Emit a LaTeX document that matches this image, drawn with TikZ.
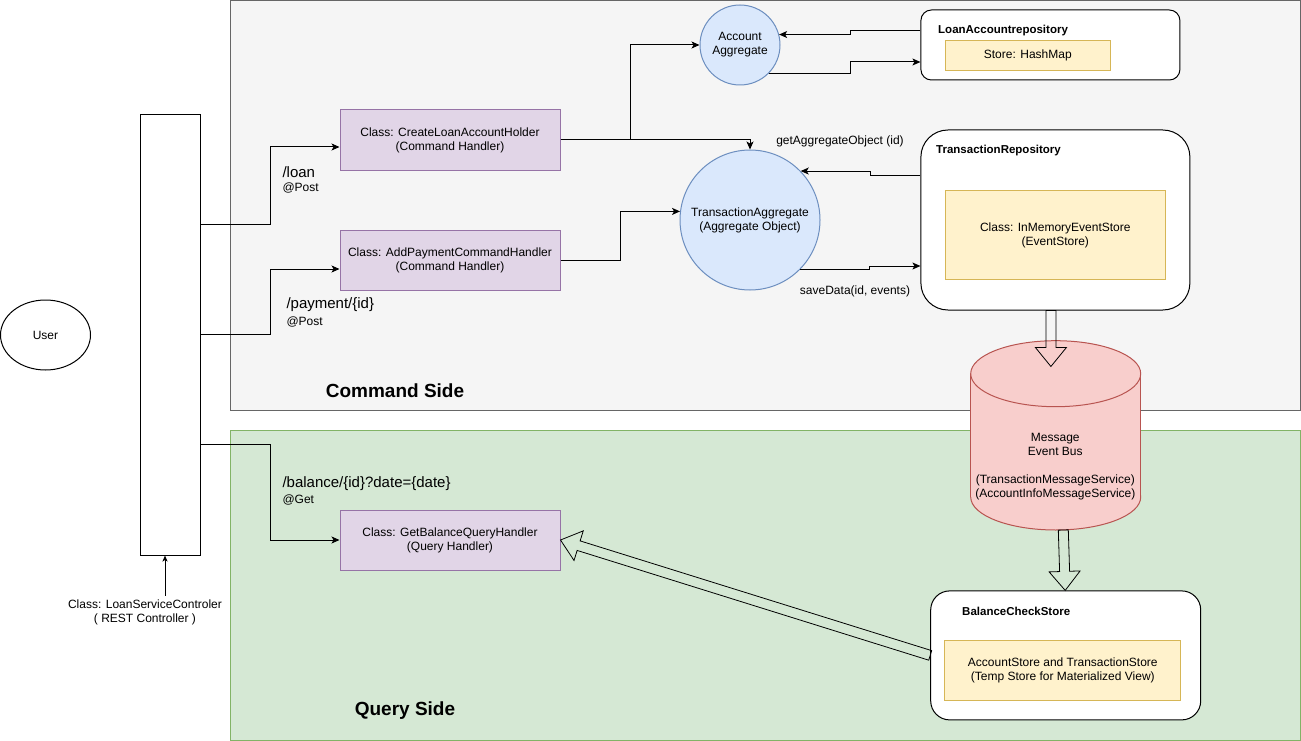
\documentclass[tikz,border=0pt]{standalone}
\usepackage{fontspec}
\setmainfont{Liberation Sans}
\usetikzlibrary{calc, arrows.meta, positioning, shapes.geometric}
\definecolor{cmdfill}{HTML}{F5F5F5}
\definecolor{cmdline}{HTML}{666666}
\definecolor{qryfill}{HTML}{D5E8D4}
\definecolor{qryline}{HTML}{82B366}
\definecolor{hdlfill}{HTML}{E1D5E7}
\definecolor{hdlline}{HTML}{9673A6}
\definecolor{aggfill}{HTML}{DAE8FC}
\definecolor{aggline}{HTML}{6C8EBF}
\definecolor{storefill}{HTML}{FFF2CC}
\definecolor{storeline}{HTML}{D6B656}
\definecolor{busfill}{HTML}{F8CECC}
\definecolor{busline}{HTML}{B85450}
\tikzset{
  >={Stealth[length=8pt,width=7pt,inset=2pt]},
  panel/.style = {line width=1pt},
  cmdpanel/.style = {panel, draw=cmdline, fill=cmdfill},
  qrypanel/.style = {panel, draw=qryline, fill=qryfill},
  sidetitle/.style = {font=\fontsize{19}{22}\selectfont\bfseries},
  handler/.style = {rectangle, draw=hdlline, fill=hdlfill, line width=1pt,
                    minimum width=220pt, minimum height=60pt, align=center},
  aggregate/.style = {circle, draw=aggline, fill=aggfill, line width=1pt,
                      align=center, inner sep=0pt},
  repobox/.style = {rectangle, draw=black, fill=white, line width=1pt},
  repotitle/.style = {anchor=west, inner sep=0pt,
                      font=\fontsize{11.5}{14}\selectfont\bfseries},
  storebox/.style = {rectangle, draw=storeline, fill=storefill, line width=1pt,
                     align=center},
  route/.style = {anchor=base west, inner sep=0pt, font=\fontsize{15}{18}\selectfont},
  httpverb/.style = {anchor=base west, inner sep=0pt},
  hollowedge/.style = {draw=black, line width=0.8pt},
  wire/.style = {->, line width=1pt},
}
\newcommand{\hollowarrow}[2]{%
  \coordinate (ha-s) at (#1);
  \coordinate (ha-e) at (#2);
  \coordinate (ha-h) at ($(ha-e)!19pt!(ha-s)$);
  \draw[hollowedge]
    ($(ha-s)!5pt!90:(ha-e)$) -- ($(ha-h)!5pt!-90:(ha-s)$) --
    ($(ha-h)!15.5pt!-90:(ha-s)$) -- (ha-e) --
    ($(ha-h)!15.5pt!90:(ha-s)$) -- ($(ha-h)!5pt!90:(ha-s)$) --
    ($(ha-s)!5pt!-90:(ha-e)$) -- cycle;
}

\begin{document}
\begin{tikzpicture}[x=1pt, y=-1pt, font=\fontsize{12}{14}\selectfont, line width=1pt]
  \useasboundingbox (0,0) rectangle (1301,741);

  % two sides
  \draw[cmdpanel] (230.5,0.5) rectangle (1300.5,410.5);
  \draw[qrypanel] (230.5,430.5) rectangle (1300.5,740.5);
  \node (cmdtitle) [sidetitle] at (395,391) {Command Side};
  \node (qrytitle) [sidetitle] at (405,711) {Query Side};

  % user and controller
  \node (user) [ellipse, draw, minimum width=90pt, minimum height=70pt] at (45.5,335) {User};
  \node (ctrl) [rectangle, draw, fill=white, minimum width=60pt, minimum height=440pt] at (170,335) {};
  \node (ctrlnote) [align=center] at (145,612) {Class: LoanServiceControler\\( REST Controller )};
  \coordinate (ctrlin) at ([xshift=-5pt]ctrl.south);
  \draw[wire, >={Stealth[length=6pt,width=5pt,inset=1.5pt]}] (ctrlin |- ctrlnote.north) -- (ctrlin);

  % handlers
  \node (create) [handler] at (450,140) {Class: CreateLoanAccountHolder\\(Command Handler)};
  \node (addpay) [handler, below=59pt of create] {Class: AddPaymentCommandHandler\\(Command Handler)};
  \node (getbal) [handler, below=219pt of addpay] {Class: GetBalanceQueryHandler\\(Query Handler)};

  \draw[wire] ([yshift=-110pt]ctrl.north east) -- ++(70,0) |- ([yshift=-7pt]create.west);
  \draw[wire] ([yshift=-220pt]ctrl.north east) -- ++(70,0) |- ([yshift=-9pt]addpay.west);
  \draw[wire] ([yshift=-330pt]ctrl.north east) -- ++(70,0) |- (getbal.west);

  \node (loanurl) [route] at (282,177) {/loan};
  \node (loanverb) [httpverb] at (282,191) {@Post};
  \node (payurl) [route] at (286,308.5) {/payment/\{id\}};
  \node (payverb) [httpverb] at (286,325) {@Post};
  \node (balurl) [route] at (282,487.5) {/balance/\{id\}?date=\{date\}};
  \node (balverb) [httpverb] at (282,503) {@Get};

  % aggregates
  \node (acctagg) [aggregate, minimum size=80pt] at (740,45) {Account\\Aggregate};
  \node (txagg) [aggregate, minimum size=140pt] at (750,220) {TransactionAggregate\\(Aggregate Object)};

  \draw[wire] (create.east) -- ++(70,0) |- (acctagg.west);
  \draw[wire] (create.east) -| (txagg.north);
  \draw[wire] (addpay.east) -- ++(60,0) |- (txagg.173);

  % repositories
  \node (loanrepo) [repobox, rounded corners=10.5pt, minimum width=259pt, minimum height=70pt] at (1050.4,45) {};
  \node (loantitle) [repotitle] at (937.7,31) {LoanAccountrepository};
  \node (hashmap) [storebox, minimum width=165pt, minimum height=30pt] at (1027.8,55.7) {Store: HashMap};

  \node (txrepo) [repobox, rounded corners=27pt, minimum width=269pt, minimum height=180pt] at (1055.4,220) {};
  \node (txtitle) [repotitle] at (935.7,151) {TransactionRepository};
  \node (memstore) [storebox, minimum width=220pt, minimum height=89pt] at (1055.3,235.4) {Class: InMemoryEventStore\\(EventStore)};

  \draw[wire] ([yshift=14pt]loanrepo.west) -- ++(-70,0) |- (acctagg.15);
  \draw[wire] (acctagg.-45) -- ++(82,0) |- ([yshift=-17pt]loanrepo.west);
  \draw[wire] ([yshift=45pt]txrepo.west) -- ++(-50,0) |- (txagg.44);
  \draw[wire] (txagg.-45) -- ++(70,0) |- ([yshift=-46pt]txrepo.west);
  \node (getlbl) at (840,141.5) {getAggregateObject (id)};
  \node (savelbl) at (855,291.5) {saveData(id, events)};

  % event bus
  \fill[busfill] (1055.7,497) ellipse [x radius=85, y radius=33];
  \draw[busline] (1055.7,497) ellipse [x radius=85, y radius=33];
  \fill[busfill] (970.7,373.7) rectangle (1140.7,497);
  \draw[busline] (970.7,373.7) -- (970.7,497) (1140.7,373.7) -- (1140.7,497);
  \draw[busline, fill=busfill] (1055.7,373.7) ellipse [x radius=85, y radius=33];
  \node (bus) [align=center] at (1055.3,466.5) {Message\\Event Bus\\[14pt](TransactionMessageService)\\(AccountInfoMessageService)};
  \coordinate (busbot) at (1063.3,530);

  % query store
  \node (balstore) [repobox, rounded corners=19pt, minimum width=270pt, minimum height=129pt] at (1065.7,655.4) {};
  \node (baltitle) [repotitle] at (961.7,611) {BalanceCheckStore};
  \node (matview) [storebox, minimum width=235.7pt, minimum height=59.3pt] at (1062.8,670.4) {AccountStore and TransactionStore\\(Temp Store for Materialized View)};

  \hollowarrow{$(txrepo.south)+(-4.5,0)$}{$(txrepo.south)+(-4.5,56)$}
  \hollowarrow{busbot}{[xshift=-0.5pt]balstore.north}
  \hollowarrow{balstore.west}{getbal.east}
\end{tikzpicture}
\end{document}
